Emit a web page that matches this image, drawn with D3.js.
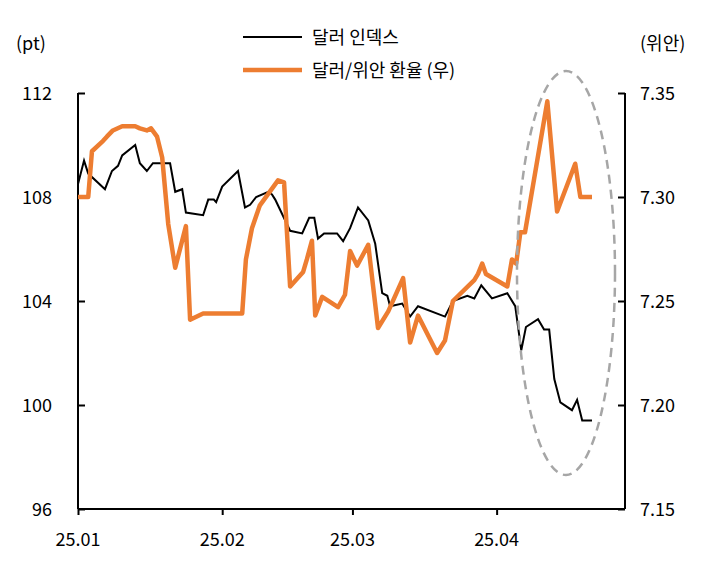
<!DOCTYPE html>
<html><head><meta charset="utf-8">
<script src="https://cdn.jsdelivr.net/npm/d3@7.9.0/dist/d3.min.js"></script>
<style>body{margin:0;background:#fff}text{font-family:"Noto Sans CJK KR","Noto Sans",sans-serif;fill:#000}</style>
</head><body><svg id="chart" width="709" height="566"></svg>
<script>
// days since 2025-01-01
const dxyDays = [0,1.3,2.2,5.8,7.3,8.6,9.5,12.3,13.3,14.8,16.1,19.8,20.9,22.4,23.2,26.9,28,29.2,29.7,31,34.4,35.9,37,38.3,40.9,41.7,42.4,45.6,48.2,49.7,50.8,51.6,52.9,55.7,57,58.5,60.2,62.4,63.9,65.4,66.5,67.1,69.7,71.4,73.1,78.9,80.6,83.7,85.2,86.7,89,92.3,94,95.3,96.3,98.9,100.2,101.3,102.4,103.7,106.2,107.3,108.4,110.5];
const dxyValues = [108.5,109.4,108.9,108.3,109.0,109.2,109.6,110.0,109.3,109.0,109.3,109.3,108.2,108.3,107.4,107.3,107.9,107.9,107.8,108.4,109.0,107.6,107.7,108.0,108.2,108.1,107.9,106.7,106.6,107.2,107.2,106.4,106.6,106.6,106.3,106.8,107.6,107.1,106.2,104.3,104.2,103.8,103.9,103.4,103.8,103.4,104.0,104.2,104.1,104.6,104.1,104.3,103.8,102.1,103.0,103.3,102.9,102.9,101.0,100.1,99.8,100.2,99.4,99.4];
const cnyDays = [0,2.2,3,5.4,6.2,7.5,9.5,12.3,13.3,14.8,15.7,17,18.1,19.4,20.9,23.2,24.1,26.9,35.3,36.1,37.4,39.1,43,44.3,45.6,48.4,49.2,50.3,51,52.5,55.9,57.4,58.5,60,62.4,64.5,66.7,69.9,71.4,73.1,77.2,78.9,80.6,85.2,86,86.9,87.7,92.3,93.3,94.2,95.1,96.1,100.9,103,106.9,108,110.5];
const cnyValues = [7.300,7.300,7.322,7.327,7.329,7.332,7.334,7.334,7.333,7.332,7.333,7.329,7.319,7.287,7.266,7.286,7.241,7.244,7.244,7.270,7.285,7.296,7.308,7.307,7.257,7.264,7.270,7.279,7.243,7.252,7.247,7.253,7.274,7.267,7.277,7.237,7.245,7.261,7.230,7.243,7.225,7.231,7.250,7.260,7.263,7.268,7.263,7.257,7.270,7.268,7.283,7.283,7.346,7.293,7.316,7.300,7.300];
const leftTicks = [96,100,104,108,112];
const rightTicks = [7.15,7.20,7.25,7.30,7.35];
const xTickDays = [0,31,59,90];
const xTickLabels = ['25.01','25.02','25.03','25.04'];

const svg = d3.select('#chart');
const x = d3.scaleLinear().domain([0,117.6]).range([78,625]);
const yL = d3.scaleLinear().domain([96,112]).range([509,93]);
const yR = d3.scaleLinear().domain([7.15,7.35]).range([509,93]);

svg.append('g').attr('transform','translate(78,0)')
  .call(d3.axisRight(yL).tickValues(leftTicks).tickSize(7).tickFormat(''))
  .call(g=>g.select('.domain').attr('d','M0,93V509'));
leftTicks.forEach(v=>svg.append('text').attr('x',52).attr('y',yL(v)+7).attr('text-anchor','end').attr('font-size',18).text(v));
svg.append('g').attr('transform','translate(625,0)')
  .call(d3.axisLeft(yR).tickValues(rightTicks).tickSize(7).tickFormat(''))
  .call(g=>g.select('.domain').attr('d','M0,93V509'));
rightTicks.forEach(v=>svg.append('text').attr('x',640).attr('y',yR(v)+7).attr('font-size',18).text(v.toFixed(2)));
svg.append('g').attr('transform','translate(0,509)')
  .call(d3.axisBottom(x).tickValues(xTickDays).tickSize(6).tickFormat(''))
  .call(g=>g.select('.domain').attr('d','M78,0H625'));
xTickDays.forEach((d,i)=>svg.append('text').attr('x',x(d)).attr('y',546).attr('text-anchor','middle').attr('font-size',18).text(xTickLabels[i]));
svg.selectAll('.domain,.tick line').attr('stroke','#000').attr('stroke-width',2);

svg.append('text').attr('x',16).attr('y',50).attr('font-size',18).text('(pt)');
svg.append('text').attr('x',640).attr('y',50).attr('font-size',18).text('(위안)');

const lineL = d3.line().x((d,i)=>x(dxyDays[i])).y(d=>yL(d));
const lineR = d3.line().x((d,i)=>x(cnyDays[i])).y(d=>yR(d));
svg.append('path').attr('d',lineL(dxyValues)).attr('fill','none').attr('stroke','#000').attr('stroke-width',2);
svg.append('path').attr('d',lineR(cnyValues)).attr('fill','none').attr('stroke','#ed7d31').attr('stroke-width',4.5).attr('stroke-linejoin','round');

svg.append('ellipse').attr('cx',566).attr('cy',273).attr('rx',49).attr('ry',202)
  .attr('fill','none').attr('stroke','#a6a6a6').attr('stroke-width',2.5).attr('stroke-dasharray','9,6');

svg.append('line').attr('x1',243).attr('x2',302).attr('y1',37).attr('y2',37).attr('stroke','#000').attr('stroke-width',2);
svg.append('text').attr('x',312).attr('y',44).attr('font-size',18).text('달러 인덱스');
svg.append('line').attr('x1',243).attr('x2',302).attr('y1',70).attr('y2',70).attr('stroke','#ed7d31').attr('stroke-width',4.5);
svg.append('text').attr('x',312).attr('y',77).attr('font-size',18).text('달러/위안 환율 (우)');
</script></body></html>
